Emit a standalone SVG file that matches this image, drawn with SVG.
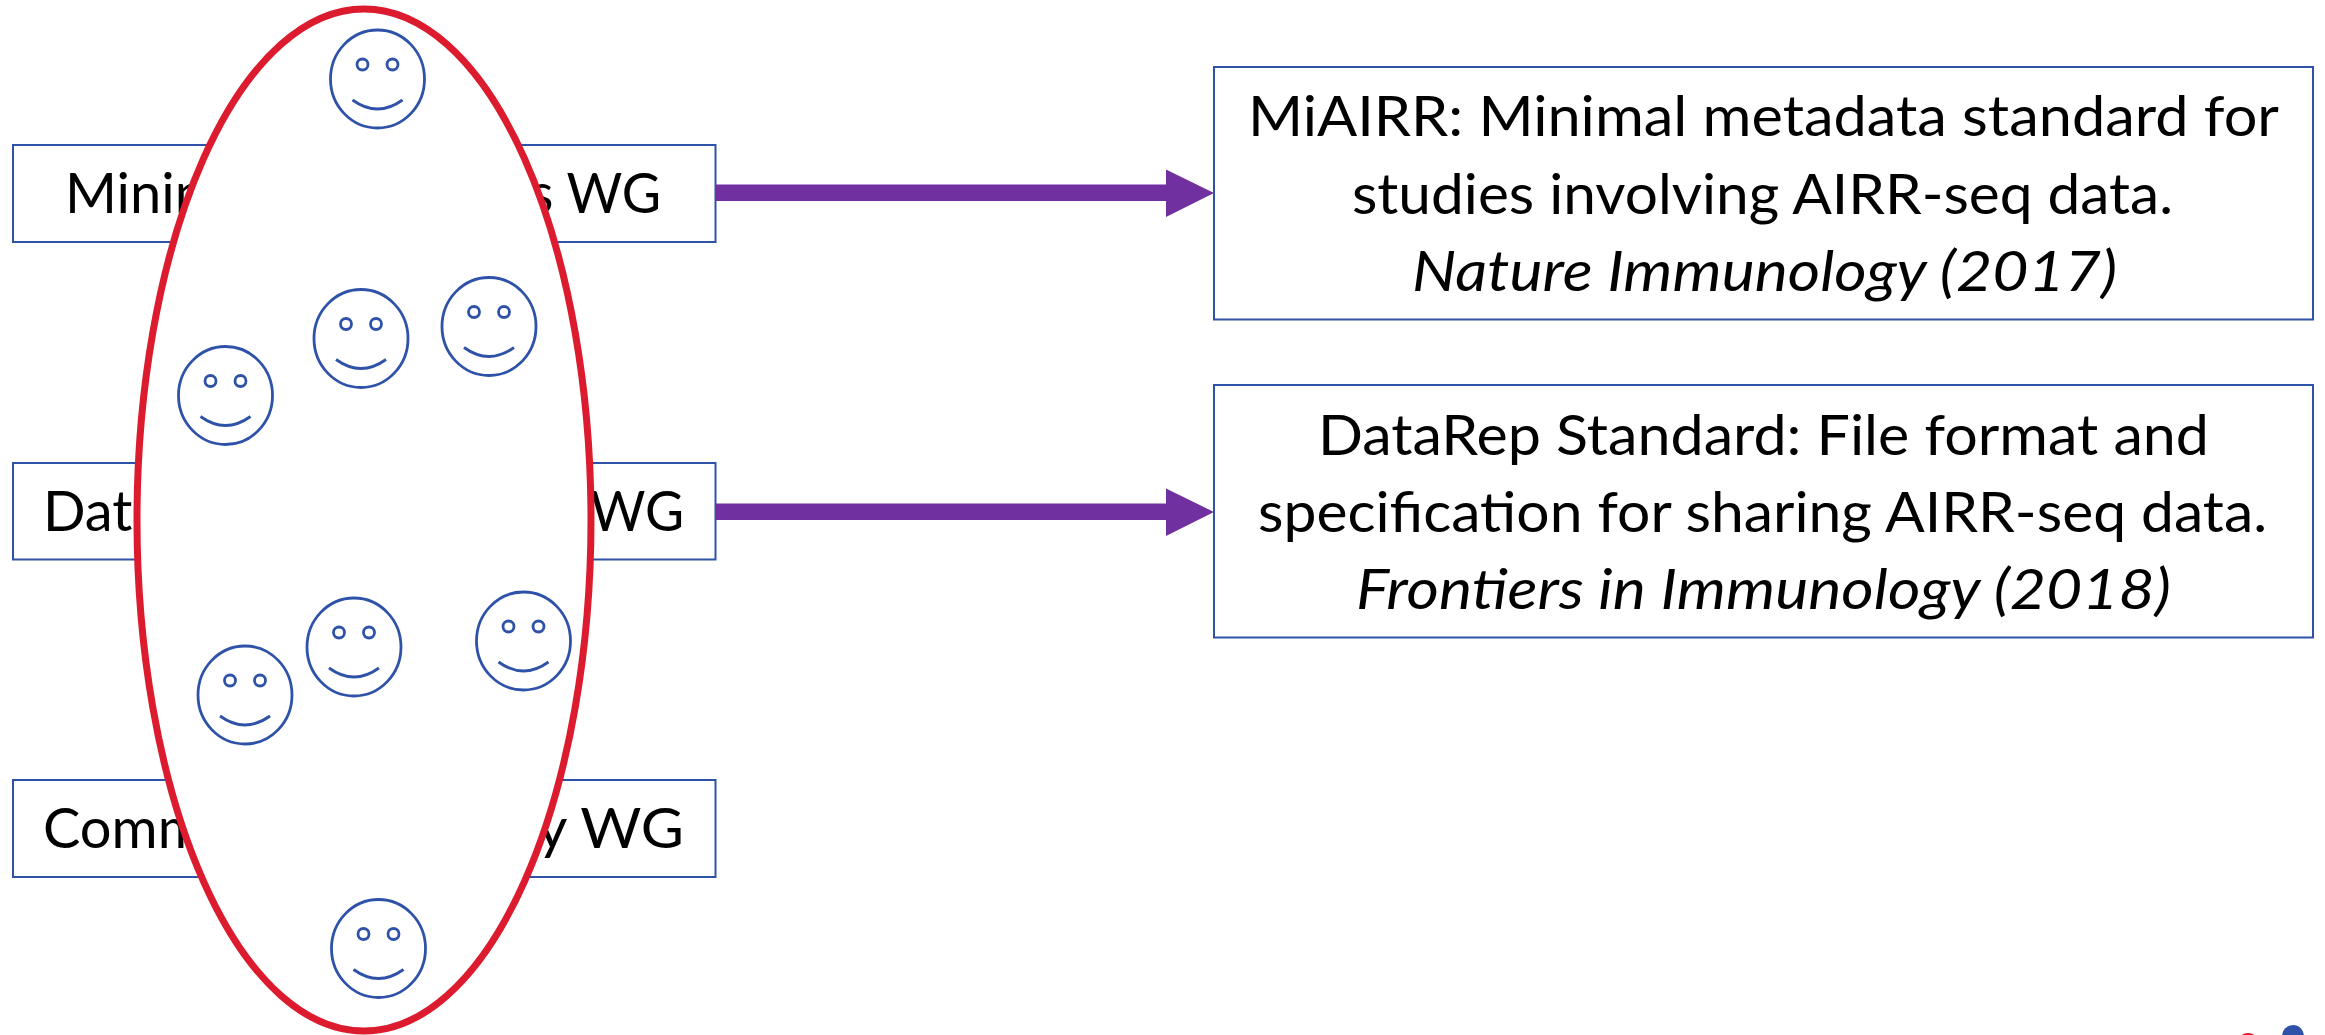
<svg xmlns="http://www.w3.org/2000/svg" width="2325" height="1035" viewBox="0 0 2325 1035">
<style>
.box{fill:#fff;stroke:#2F52A9;stroke-width:2}
.t{font-family:"Lato","Open Sans",sans-serif;font-size:56px;fill:#000}
.i{font-style:italic}
.shaft{fill:#7030A0}
.face{fill:#fff;stroke:#2F52A9;stroke-width:2.8}
.mouth{fill:none;stroke:#2F52A9;stroke-width:2.8}
</style>
<defs>
<g id="smiley">
<ellipse class="face" cx="0" cy="0" rx="47" ry="49"/>
<circle class="face" cx="-15" cy="-14.5" r="5.5"/>
<circle class="face" cx="15" cy="-14.5" r="5.5"/>
<path class="mouth" d="M-25 21Q0 39 25 21"/>
</g>
</defs>
<rect width="2325" height="1035" fill="#fff"/>
<g id="wg1"><rect class="box" x="13" y="145" width="702.500" height="97"/><text class="t" x="65" y="213">Minim</text><text class="t" x="530" y="213" textLength="131" lengthAdjust="spacingAndGlyphs">s WG</text></g>
<g id="wg2"><rect class="box" x="13" y="463" width="702.500" height="96.500"/><text class="t" x="43" y="531">Data</text><text class="t" x="590" y="531" textLength="94" lengthAdjust="spacingAndGlyphs">WG</text></g>
<g id="wg3"><rect class="box" x="13" y="780" width="702.500" height="97"/><text class="t" x="43" y="848">Comm</text><text class="t" x="537" y="848" textLength="147" lengthAdjust="spacingAndGlyphs">y WG</text></g>
<g id="out1"><rect class="box" x="1214" y="67" width="1099" height="252.500"/>
<text class="t" x="1248" y="136" textLength="1031" lengthAdjust="spacingAndGlyphs">MiAIRR: Minimal metadata standard for</text>
<text class="t" x="1352" y="213.500" textLength="821" lengthAdjust="spacingAndGlyphs">studies involving AIRR-seq data.</text>
<text class="t i" x="1412" y="291" textLength="705" lengthAdjust="spacingAndGlyphs">Nature Immunology (2017)</text></g>
<g id="out2"><rect class="box" x="1214" y="385" width="1099" height="252.500"/>
<text class="t" x="1318" y="454.500" textLength="891" lengthAdjust="spacingAndGlyphs">DataRep Standard: File format and</text>
<text class="t" x="1258" y="531.500" textLength="1009" lengthAdjust="spacingAndGlyphs">specification for sharing AIRR-seq data.</text>
<text class="t i" x="1356" y="608.500" textLength="815" lengthAdjust="spacingAndGlyphs">Frontiers in Immunology (2018)</text></g>
<g id="connectors">
<path class="shaft" d="M716 184.500H1166V169.500L1214 193L1166 217V201H716Z"/>
<path class="shaft" d="M716 503.500H1166V488.500L1214 512L1166 536V520H716Z"/>
</g>
<g id="group-ellipse"><ellipse cx="364" cy="520" rx="227" ry="511" fill="#fff" stroke="#DC1C2E" stroke-width="7"/></g>
<g id="p1"><use href="#smiley" x="377.500" y="79"/></g>
<g id="p2"><use href="#smiley" x="361" y="338.500"/></g>
<g id="p3"><use href="#smiley" x="489" y="326.500"/></g>
<g id="p4"><use href="#smiley" x="225.500" y="395.500"/></g>
<g id="p5"><use href="#smiley" x="354" y="647"/></g>
<g id="p6"><use href="#smiley" x="523.500" y="641"/></g>
<g id="p7"><use href="#smiley" x="245" y="695"/></g>
<g id="p8"><use href="#smiley" x="378.500" y="948.500"/></g>
<g id="logo"><circle cx="2248" cy="1044" r="11" fill="#DC1C2E"/><circle cx="2293" cy="1036" r="11" fill="#2F52A9"/></g>
</svg>
